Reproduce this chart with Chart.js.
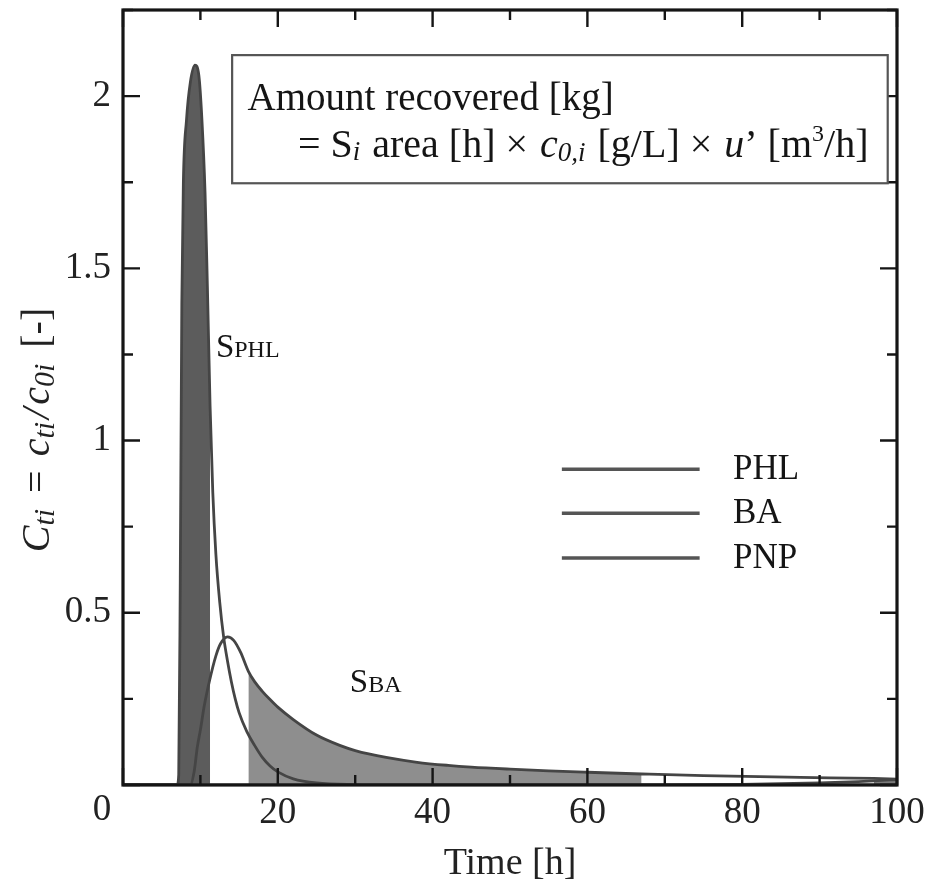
<!DOCTYPE html>
<html><head><meta charset="utf-8">
<script src="https://cdn.jsdelivr.net/npm/chart.js@4.4.1/dist/chart.umd.min.js"></script>
<style>html,body{margin:0;padding:0;background:#fff;}canvas{display:block;}</style>
</head><body>
<canvas id="c" width="931" height="890"></canvas>
<script>
// ---- data ----
const seriesNames = ['PHL', 'BA', 'PNP'];
const phlTime  = [0, 7.0, 7.2, 7.4, 7.6, 7.8, 8.2, 8.7, 9.3, 9.8, 10.2, 10.6, 10.9, 11.25, 11.6, 12.0, 12.5, 13.0, 13.5, 14.0, 14.5, 15.0, 16.0, 17.0, 18.0, 19.0, 20.0, 22.0, 25.0, 30.0, 35.0, 100];
const phlValue = [0, 0,   0.03, 0.6, 1.4, 1.75, 1.93, 2.04, 2.09, 2.06, 1.93, 1.72, 1.45, 1.10, 0.85, 0.67, 0.53, 0.43, 0.36, 0.30, 0.25, 0.21, 0.155, 0.115, 0.08, 0.055, 0.038, 0.018, 0.006, 0.001, 0, 0];
const baTime   = [0, 8.7, 9.2, 9.6, 10.0, 10.5, 11.2, 12.0, 12.6, 13.5, 14.3, 15.2, 16.2, 17.0, 18.0, 19.0, 20.0, 22.0, 25.0, 28.0, 30.0, 34.0, 38.0, 42.0, 45.0, 50.0, 55.0, 60.0, 67.0, 75.0, 87.5, 97.0, 100];
const baValue  = [0, 0,   0.04, 0.11, 0.16, 0.23, 0.305, 0.375, 0.41, 0.43, 0.42, 0.385, 0.33, 0.30, 0.272, 0.248, 0.226, 0.19, 0.145, 0.115, 0.10, 0.08, 0.066, 0.057, 0.052, 0.046, 0.041, 0.037, 0.032, 0.027, 0.022, 0.019, 0.017];
const pnpTime  = [0, 70, 80, 90, 95, 97, 100];
const pnpValue = [0, 0, 0.002, 0.006, 0.010, 0.012, 0.016];
const phlCut = [7.0, 11.25];   // S_PHL collected fraction [h]
const baCut  = [16.2, 67.0];   // S_BA collected fraction [h]
const pnpCut = [97.0, 100];    // start of PNP fraction [h]
const xTicks = [0, 20, 40, 60, 80, 100];
const xMinorTicks = [10, 30, 50, 70, 90];
const yTicks = [0, 0.5, 1, 1.5, 2];
const yMinorTicks = [0.25, 0.75, 1.25, 1.75, 2.25];

// ---- styles ----
const LINE = '#454545';
const INK = '#151515';
const SERIF = '"Liberation Serif", "DejaVu Serif", serif';

const pts = (t, v) => t.map((x, i) => ({x, y: v[i]}));
const within = (p, r) => p.filter(q => q.x >= r[0] - 1e-9 && q.x <= r[1] + 1e-9);
const phlPts = pts(phlTime, phlValue), baPts = pts(baTime, baValue), pnpPts = pts(pnpTime, pnpValue);

const fillDs = (label, data, color) => ({label, data, fill: 'origin', backgroundColor: color, borderWidth: 0,
  borderColor: 'rgba(0,0,0,0)', pointRadius: 0, order: 5, cubicInterpolationMode: 'monotone'});
const lineDs = (label, data) => ({label, data, fill: false, borderColor: LINE, borderWidth: 2.8,
  pointRadius: 0, order: 1, cubicInterpolationMode: 'monotone'});

function runs(ctx, x, y, list) {
  ctx.textAlign = 'left'; ctx.textBaseline = 'alphabetic';
  for (const r of list) { ctx.font = r.f; ctx.fillText(r.t, x, y + (r.dy || 0)); x += ctx.measureText(r.t).width + (r.gap || 0); }
  return x;
}
function runsWidth(ctx, list) { let w = 0; for (const r of list) { ctx.font = r.f; w += ctx.measureText(r.t).width + (r.gap || 0); } return w; }

const deco = {
  id: 'deco',
  afterDatasetsDraw(chart) {
    const {ctx, chartArea: a, scales: {x, y}} = chart;
    ctx.save();
    // frame
    ctx.strokeStyle = INK; ctx.lineWidth = 3.2;
    ctx.strokeRect(a.left, a.top, a.right - a.left, a.bottom - a.top);
    // inward ticks
    ctx.lineWidth = 2.4;
    const tk = (vals, len, horiz) => {
      for (const v of vals) {
        ctx.beginPath();
        if (horiz) { const p = x.getPixelForValue(v); ctx.moveTo(p, a.bottom); ctx.lineTo(p, a.bottom - len); ctx.moveTo(p, a.top); ctx.lineTo(p, a.top + len); }
        else { const p = y.getPixelForValue(v); ctx.moveTo(a.left, p); ctx.lineTo(a.left + len, p); ctx.moveTo(a.right, p); ctx.lineTo(a.right - len, p); }
        ctx.stroke();
      }
    };
    tk(xTicks, 17, true); tk(xMinorTicks, 10, true); tk(yTicks, 17, false); tk(yMinorTicks, 10, false);
    // corner zero
    ctx.fillStyle = '#222'; ctx.font = '37px ' + SERIF; ctx.textAlign = 'center'; ctx.textBaseline = 'middle';
    ctx.fillText('0', a.left - 21, a.bottom + 25);
    // annotation box
    const bx0 = x.getPixelForValue(14.1), bx1 = x.getPixelForValue(98.8);
    const by0 = y.getPixelForValue(2.119), by1 = y.getPixelForValue(1.747);
    ctx.fillStyle = '#fff'; ctx.fillRect(bx0, by0, bx1 - bx0, by1 - by0);
    ctx.strokeStyle = '#555'; ctx.lineWidth = 2.2; ctx.strokeRect(bx0, by0, bx1 - bx0, by1 - by0);
    ctx.fillStyle = INK;
    const N = '39px ' + SERIF, N2 = '40px ' + SERIF, I = 'italic 40px ' + SERIF, Is = 'italic 27px ' + SERIF, Ns = '24px ' + SERIF;
    runs(ctx, x.getPixelForValue(16.1), y.getPixelForValue(1.96), [{t: 'Amount recovered [kg]', f: N}]);
    runs(ctx, x.getPixelForValue(22.6), y.getPixelForValue(1.823), [
      {t: '= S', f: N2}, {t: 'i', f: Is, dy: 3, gap: 2}, {t: ' area [h] × ', f: N2, gap: 2}, {t: 'c', f: I}, {t: '0,', f: Is, dy: 4},
      {t: 'i', f: Is, dy: 4, gap: 2}, {t: ' [g/L] × ', f: N2, gap: 2}, {t: 'u', f: I}, {t: '’ [m', f: N2}, {t: '3', f: Ns, dy: -16}, {t: '/h]', f: N2}]);
    // area labels
    const Sb = '33px ' + SERIF, Ss = '24px ' + SERIF;
    runs(ctx, x.getPixelForValue(12.0), y.getPixelForValue(1.243), [{t: 'S', f: Sb}, {t: 'PHL', f: Ss}]);
    runs(ctx, x.getPixelForValue(29.3), y.getPixelForValue(0.27), [{t: 'S', f: Sb}, {t: 'BA', f: Ss}]);
    // legend
    const legY = [0.917, 0.789, 0.659];
    const lx0 = x.getPixelForValue(56.7), lx1 = x.getPixelForValue(74.5), tx = x.getPixelForValue(78.8);
    ctx.lineWidth = 3.5; ctx.strokeStyle = '#555';
    seriesNames.forEach((n, i) => {
      const py = y.getPixelForValue(legY[i]);
      ctx.beginPath(); ctx.moveTo(lx0, py); ctx.lineTo(lx1, py); ctx.stroke();
      ctx.font = '35px ' + SERIF; ctx.fillStyle = INK; ctx.textAlign = 'left'; ctx.textBaseline = 'middle';
      ctx.fillText(n, tx, py + 1);
    });
    // y-axis title (rotated, with subscripts)
    const YI = 'italic 40px ' + SERIF, YS = 'italic 30px ' + SERIF, YN = '40px ' + SERIF;
    const yt = [{t: 'C', f: YI}, {t: 'ti', f: YS, dy: 5, gap: 16}, {t: '=', f: YN, gap: 14}, {t: 'c', f: YI}, {t: 'ti', f: YS, dy: 5, gap: 3},
      {t: '/', f: YI, gap: 3}, {t: 'c', f: YI}, {t: '0i', f: YS, dy: 5, gap: 16}, {t: '[-]', f: YN}];
    ctx.translate(49, 430); ctx.rotate(-Math.PI / 2);
    ctx.fillStyle = '#222';
    runs(ctx, -runsWidth(ctx, yt) / 2, 0, yt);
    ctx.restore();
  }
};

new Chart(document.getElementById('c'), {
  type: 'line',
  data: {datasets: [
    fillDs('S_PHL', within(phlPts, phlCut), '#5c5c5c'),
    fillDs('S_BA', within(baPts, baCut), '#8e8e8e'),
    fillDs('S_PNP', within(pnpPts, pnpCut), '#7a7a7a'),
    lineDs(seriesNames[0], phlPts),
    lineDs(seriesNames[1], baPts),
    lineDs(seriesNames[2], pnpPts)
  ]},
  options: {
    responsive: false, animation: false, devicePixelRatio: 1,
    layout: {autoPadding: false, padding: {top: 10, right: 34, left: 0, bottom: 0}},
    plugins: {legend: {display: false}, tooltip: {enabled: false}},
    scales: {
      x: {type: 'linear', min: 0, max: 100,
        afterBuildTicks: s => { s.ticks = xTicks.map(v => ({value: v})); },
        afterFit: s => { s.height = 105; s.paddingLeft = 0; s.paddingRight = 0; },
        grid: {display: false, drawTicks: false}, border: {display: false},
        ticks: {font: {family: SERIF, size: 37}, color: '#222', padding: 6, maxRotation: 0, autoSkip: false,
          callback: v => v === 0 ? '' : String(v)},
        title: {display: true, text: 'Time [h]', font: {family: SERIF, size: 38}, color: '#222', padding: {top: 0, bottom: 3}}},
      y: {type: 'linear', min: 0, max: 2.25,
        afterBuildTicks: s => { s.ticks = yTicks.map(v => ({value: v})); },
        afterFit: s => { s.width = 123; s.paddingTop = 0; s.paddingBottom = 0; },
        grid: {display: false, drawTicks: false}, border: {display: false},
        ticks: {font: {family: SERIF, size: 37}, color: '#222', padding: 12, callback: v => v === 0 ? '' : String(v)}}
    }
  },
  plugins: [deco]
});
</script>
</body></html>
